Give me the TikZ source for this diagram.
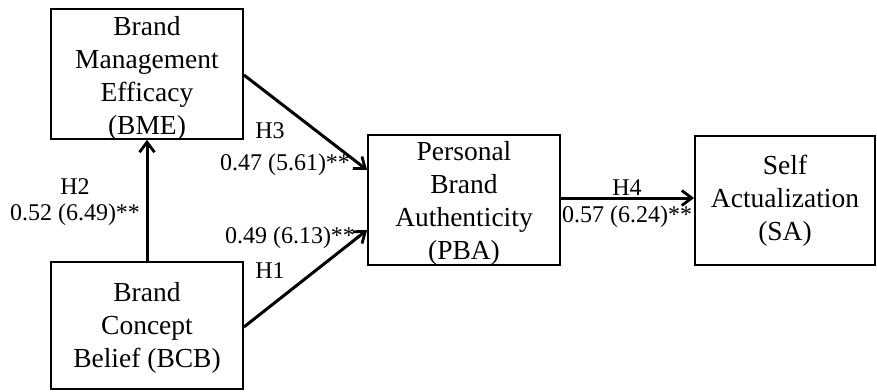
\documentclass[tikz,border=0pt]{standalone}
\usepackage{fontspec}
\setmainfont{Liberation Serif}
\usetikzlibrary{arrows.meta}
\begin{document}
\begin{tikzpicture}[x=1pt,y=-1pt,
  construct/.style={draw, line width=1.8pt, inner sep=0pt},
  caption/.style={inner sep=0pt, align=center, font=\fontsize{27.5}{33}\selectfont},
  path/.style={line width=3pt, -{Straight Barb[length=10pt,width=15pt,line width=2.8pt]}},
  coef/.style={font=\fontsize{24}{28}\selectfont, inner sep=0pt}]
\useasboundingbox (0,0) rectangle (877,391);
% constructs: frame and text
\node[construct, minimum width=192pt, minimum height=130pt] (bme) at (147,74) {};
\node[caption] (bmet) at (147,78) {Brand\\Management\\Efficacy\\(BME)};
\node[construct, minimum width=192pt, minimum height=127pt] (bcb) at (147,325.5) {};
\node[caption] (bcbt) at (147,327.5) {Brand\\Concept\\Belief (BCB)};
\node[construct, minimum width=192pt, minimum height=130pt] (pba) at (464,200) {};
\node[caption] (pbat) at (464,203.5) {Personal\\Brand\\Authenticity\\(PBA)};
\node[construct, minimum width=180pt, minimum height=129pt] (sa) at (785,200.5) {};
\node[caption] (sat) at (785,201) {Self\\Actualization\\(SA)};
% paths
\draw[path] (bcb.north) -- (bme.south);
\draw[path] (bme.east |- 0,75) -- (pba.west |- 0,170);
\draw[path] (bcb.east |- 0,327) -- (pba.west |- 0,230);
\draw[path] (pba.east |- 0,198) -- (sa.west |- 0,198);
% coefficients
\node[coef] (h2) at (75,187) {H2};
\node[coef] (c2) at (75,215) {0.52 (6.49)**};
\node[coef] (h3) at (270,131) {H3};
\node[coef] (c3) at (285,165) {0.47 (5.61)**};
\node[coef] (c1) at (290,238) {0.49 (6.13)**};
\node[coef] (h1) at (270,271) {H1};
\node[coef] (h4) at (627,188) {H4};
\node[coef] (c4) at (627,217) {0.57 (6.24)**};
\end{tikzpicture}
\end{document}
